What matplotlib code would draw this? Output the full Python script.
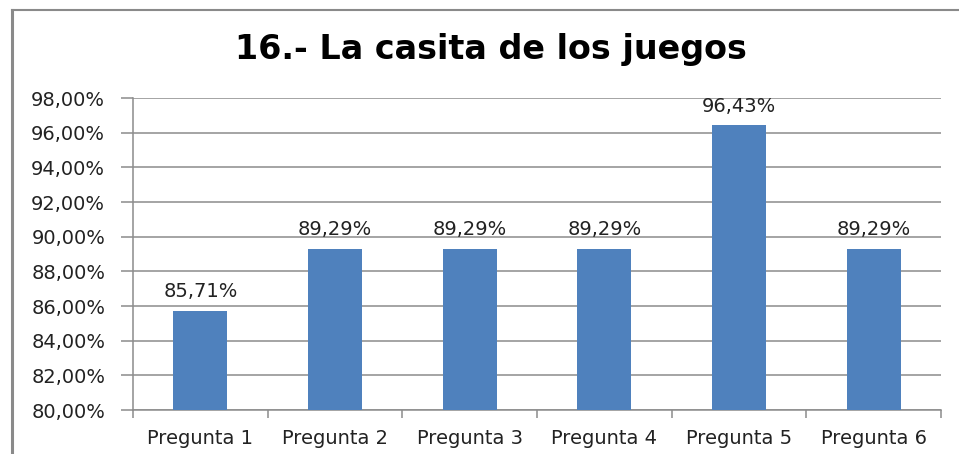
import numpy as np
import matplotlib
matplotlib.use("Agg")
import matplotlib.pyplot as plt
from matplotlib.lines import Line2D

# chart data
categories = ["Pregunta 1", "Pregunta 2", "Pregunta 3", "Pregunta 4", "Pregunta 5", "Pregunta 6"]
values = [85.71, 89.29, 89.29, 89.29, 96.43, 89.29]
y_ticks = [80, 82, 84, 86, 88, 90, 92, 94, 96, 98]
title = "16.- La casita de los juegos"


def pct(v):
    return f"{v:.2f}%".replace(".", ",")


fig = plt.figure(figsize=(9.59, 4.54), dpi=100)
ax = fig.add_axes([133 / 959, 1 - 410 / 454, (941 - 133) / 959, (410 - 98) / 454])

x = np.arange(len(categories))
bars = ax.bar(x, values, width=0.4, color="#4F81BD", zorder=3)

# value labels above the bars
for xi, v in zip(x, values):
    ax.text(xi, v + 0.55, pct(v), ha="center", va="bottom", fontsize=14, color="#222222")

ax.set_ylim(80, 98)
ax.set_xlim(-0.5, len(categories) - 0.5)
ax.set_yticks(y_ticks)
ax.set_yticklabels([pct(t) for t in y_ticks], fontsize=14, color="#222222")
ax.yaxis.grid(True, color="#8c8c8c", linewidth=1.1, zorder=0)

# category labels on major ticks, tick marks at boundaries
ax.set_xticks(x)
ax.set_xticklabels(categories, fontsize=14, color="#222222")
ax.set_xticks(np.arange(-0.5, len(categories)), minor=True)
ax.tick_params(axis="x", which="major", length=0, pad=14)
ax.tick_params(axis="x", which="minor", length=6, color="#8c8c8c", width=1.1)
ax.tick_params(axis="y", length=9, color="#8c8c8c", width=1.1, pad=11)

for side in ["top", "right"]:
    ax.spines[side].set_visible(False)
for side in ["left", "bottom"]:
    ax.spines[side].set_color("#8c8c8c")
    ax.spines[side].set_linewidth(1.1)

fig.text(0.512, 1 - 50 / 454, title, ha="center", va="center", fontsize=24,
         fontweight="bold", color="black")

# chart border (partly cropped)
fig.add_artist(Line2D([12 / 959, 12 / 959], [0, 1 - 10 / 454], transform=fig.transFigure,
                      color="#8a8a8a", linewidth=2.2))
fig.add_artist(Line2D([12 / 959, 1], [1 - 10 / 454, 1 - 10 / 454], transform=fig.transFigure,
                      color="#8a8a8a", linewidth=1.5))

fig.savefig("out.png", dpi=100)
